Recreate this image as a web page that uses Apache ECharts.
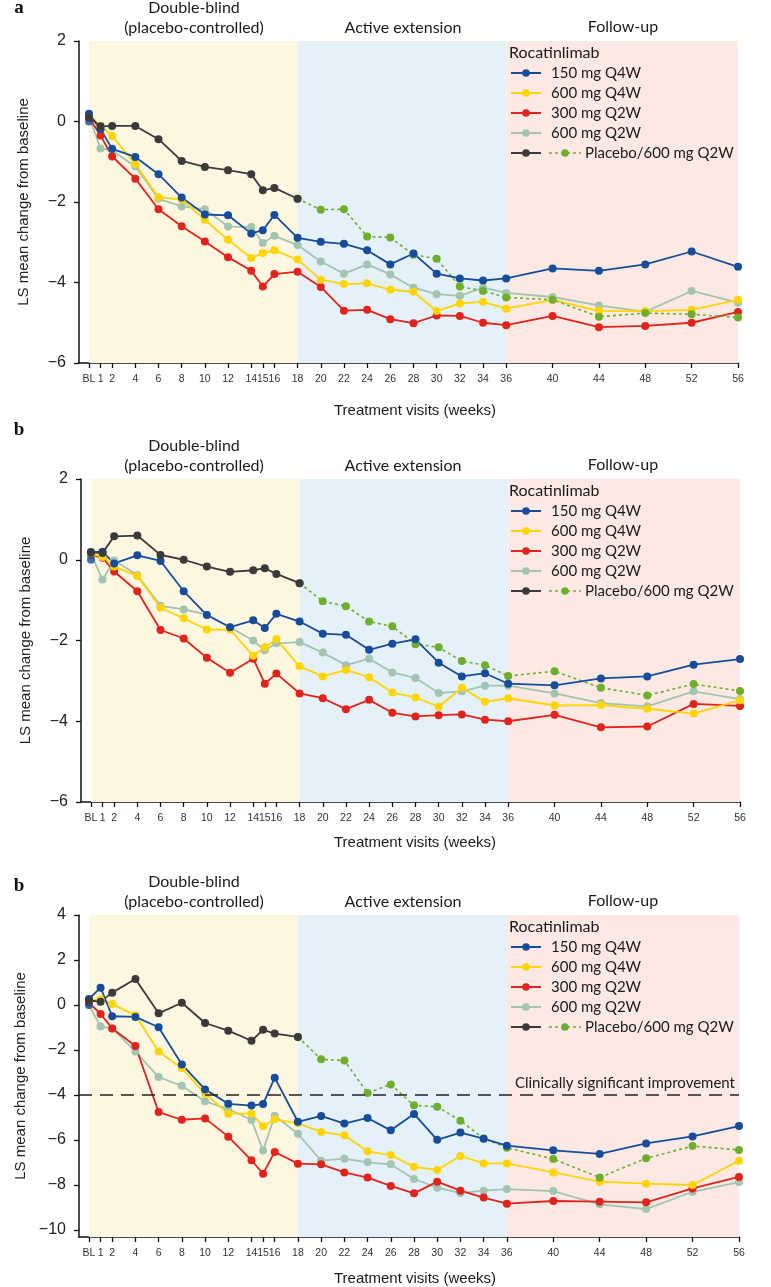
<!DOCTYPE html>
<html><head><meta charset="utf-8">
<script src="https://cdn.jsdelivr.net/npm/echarts@6/dist/echarts.min.js"></script>
<style>html,body{margin:0;padding:0;background:#fff}#c{width:771px;height:1287px}</style>
</head><body><div id="c"></div>
<script>
// ---------- Data ----------
const weeks = [0,1,2,4,6,8,10,12,14,15,16,18,20,22,24,26,28,30,32,34,36,40,44,48,52,56];
const weeksDB = [0,1,2,4,6,8,10,12,14,15,16,18];
const weeksExt = [20,22,24,26,28,30,32,34,36,40,44,48,52,56];
const xTickValues = weeks;
const seriesNames = ['150 mg Q4W','600 mg Q4W','300 mg Q2W','600 mg Q2W','Placebo/600 mg Q2W'];
const legendTitle = 'Rocatinlimab';
const phaseLine1 = 'Double-blind';
const phaseLine2 = '(placebo-controlled)';
const phaseExt = 'Active extension';
const phaseFollow = 'Follow-up';
const xTitle = 'Treatment visits (weeks)';
const yTitle = 'LS mean change from baseline';
const yTicksAB = [-6,-4,-2,0,2];
const yTicksC = [-10,-8,-6,-4,-2,0,2,4];
const clinicalThreshold = -4;
const clinicalLabel = 'Clinically significant improvement';
const baselineExtraDot = 0;

// Panel a
const a150q4w = [0.19,-0.19,-0.68,-0.88,-1.31,-1.89,-2.31,-2.33,-2.78,-2.70,-2.32,-2.89,-2.99,-3.04,-3.20,-3.55,-3.28,-3.78,-3.90,-3.95,-3.90,-3.65,-3.71,-3.55,-3.23,-3.61];
const a600q4w = [0.15,-0.11,-0.36,-1.06,-1.88,-1.94,-2.44,-2.94,-3.39,-3.27,-3.20,-3.43,-3.93,-4.04,-4.02,-4.18,-4.23,-4.71,-4.52,-4.48,-4.65,-4.43,-4.71,-4.71,-4.68,-4.43];
const a300q2w = [0.10,-0.35,-0.87,-1.42,-2.18,-2.60,-2.98,-3.37,-3.71,-4.10,-3.79,-3.73,-4.11,-4.70,-4.68,-4.91,-5.01,-4.82,-4.83,-5.00,-5.06,-4.83,-5.11,-5.08,-5.00,-4.73];
const a600q2w = [0.12,-0.67,-0.72,-1.12,-1.92,-2.11,-2.18,-2.61,-2.62,-3.02,-2.84,-3.07,-3.48,-3.78,-3.55,-3.80,-4.13,-4.29,-4.33,-4.13,-4.26,-4.36,-4.57,-4.73,-4.21,-4.50];
const aPlaceboDB = [0.10,-0.12,-0.11,-0.11,-0.44,-0.98,-1.13,-1.21,-1.31,-1.71,-1.65,-1.92];
const aPlaceboExt = [-2.19,-2.18,-2.86,-2.88,-3.31,-3.41,-4.10,-4.21,-4.37,-4.43,-4.85,-4.76,-4.79,-4.87];

// Panel b
const b150q4w = [0.19,0.20,-0.09,0.11,-0.03,-0.78,-1.37,-1.67,-1.50,-1.69,-1.34,-1.53,-1.83,-1.86,-2.23,-2.08,-1.97,-2.55,-2.89,-2.81,-3.07,-3.11,-2.94,-2.89,-2.60,-2.46];
const b600q4w = [0.15,0.07,-0.17,-0.40,-1.19,-1.45,-1.73,-1.73,-2.38,-2.17,-1.97,-2.64,-2.89,-2.73,-2.91,-3.29,-3.41,-3.64,-3.17,-3.52,-3.43,-3.61,-3.60,-3.69,-3.81,-3.48];
const b300q2w = [0.12,0.05,-0.29,-0.78,-1.74,-1.95,-2.43,-2.80,-2.45,-3.07,-2.82,-3.31,-3.43,-3.70,-3.47,-3.79,-3.88,-3.85,-3.83,-3.96,-4.00,-3.84,-4.15,-4.13,-3.57,-3.62];
const b600q2w = [0.15,-0.49,-0.02,-0.38,-1.14,-1.23,-1.36,-1.67,-2.00,-2.24,-2.07,-2.04,-2.30,-2.61,-2.45,-2.79,-2.93,-3.30,-3.26,-3.12,-3.12,-3.31,-3.55,-3.63,-3.26,-3.45];
const bPlaceboDB = [0.18,0.17,0.58,0.60,0.12,0.00,-0.17,-0.30,-0.26,-0.21,-0.35,-0.58];
const bPlaceboExt = [-1.03,-1.15,-1.53,-1.65,-2.09,-2.17,-2.51,-2.61,-2.88,-2.76,-3.17,-3.36,-3.08,-3.25];

// Panel c
const c150q4w = [0.27,0.77,-0.50,-0.53,-0.99,-2.64,-3.75,-4.39,-4.47,-4.40,-3.23,-5.19,-4.93,-5.27,-5.02,-5.57,-4.84,-5.99,-5.67,-5.94,-6.25,-6.46,-6.62,-6.15,-5.84,-5.38];
const c600q4w = [0.20,0.25,0.04,-0.46,-2.07,-2.81,-3.94,-4.83,-4.83,-5.39,-5.08,-5.26,-5.64,-5.79,-6.50,-6.67,-7.19,-7.33,-6.71,-7.04,-7.04,-7.44,-7.85,-7.94,-8.00,-6.92];
const c300q2w = [0.10,-0.40,-1.04,-1.82,-4.76,-5.10,-5.04,-5.85,-6.90,-7.50,-6.53,-7.05,-7.08,-7.44,-7.67,-8.04,-8.37,-7.85,-8.25,-8.56,-8.83,-8.71,-8.74,-8.77,-8.15,-7.64];
const c600q2w = [0.00,-0.96,-1.04,-2.07,-3.20,-3.59,-4.28,-4.62,-5.11,-6.47,-4.92,-5.72,-6.92,-6.83,-6.99,-7.08,-7.73,-8.12,-8.36,-8.25,-8.18,-8.27,-8.86,-9.07,-8.30,-7.87];
const cPlaceboDB = [0.20,0.15,0.55,1.16,-0.37,0.10,-0.80,-1.14,-1.59,-1.10,-1.27,-1.42];
const cPlaceboExt = [-2.41,-2.47,-3.91,-3.53,-4.46,-4.52,-5.14,-5.93,-6.34,-6.84,-7.67,-6.81,-6.27,-6.44];

// ---------- Styles ----------
const COL = {q4w150:'#174c9b', q4w600:'#ffd400', q2w300:'#e2231c', q2w600:'#a2c4b1', pbo:'#3a3a3a', ext:'#6fae2c'};
const BAND = ['#fdf6e1','#e5f1f9','#fce9e3'];
const AXFONT = 'Liberation Sans, Arial, sans-serif';
const TXFONT = 'Lato, Liberation Sans, sans-serif';

const panels = [
  {left:79, right:33, top:41, height:322, ymin:-6, ymax:2, yt:yTicksAB, d:[a150q4w,a600q4w,a300q2w,a600q2w,aPlaceboDB,aPlaceboExt], dy:0, lab:'a', labY:8, xTitleY:410, clin:false},
  {left:81, right:31, top:479, height:323, ymin:-6, ymax:2, yt:yTicksAB, d:[b150q4w,b600q4w,b300q2w,b600q2w,bPlaceboDB,bPlaceboExt], dy:438, lab:'b', labY:430, xTitleY:842, clin:false},
  {left:79, right:32, top:915, height:322, ymin:-10.31, ymax:4, yt:yTicksC, d:[c150q4w,c600q4w,c300q2w,c600q2w,cPlaceboDB,cPlaceboExt], dy:874, lab:'b', labY:886, xTitleY:1278, clin:true}
];

const fmtY = v => (v < 0 ? '\u2212' + Math.abs(v) : String(v));
const pairs = (xs, ys) => xs.map((x, i) => [x, ys[i]]);

const grid = [], xAxis = [], yAxis = [], series = [], graphic = [];
const G = el => { el.z = 100; graphic.push(el); };

panels.forEach((p, k) => {
  grid.push({left:p.left, right:p.right, top:p.top, height:p.height, containLabel:false});
  xAxis.push({
    type:'value', gridIndex:k, min:-0.86, max:56,
    axisLine:{show:true, onZero:false, lineStyle:{color:'#111', width:1.5}},
    axisTick:{show:true, length:5, customValues:xTickValues, lineStyle:{color:'#111', width:1.3}},
    axisLabel:{customValues:xTickValues, formatter:v => (v === 0 ? 'BL' : String(v)), fontSize:10.5, fontFamily:AXFONT, color:'#333', margin:11, hideOverlap:false},
    splitLine:{show:false}
  });
  yAxis.push({
    type:'value', gridIndex:k, min:p.ymin, max:p.ymax,
    axisLine:{show:true, onZero:false, lineStyle:{color:'#111', width:1.5}},
    axisTick:{show:true, length:5, customValues:p.yt, lineStyle:{color:'#111', width:1.3}},
    axisLabel:{customValues:p.yt, formatter:fmtY, fontSize:16, fontFamily:AXFONT, color:'#222', margin:13},
    splitLine:{show:false},
    name:yTitle, nameLocation:'middle', nameRotate:90, nameGap:48,
    nameTextStyle:{fontSize:15, fontFamily:AXFONT, color:'#222'}
  });
  // background phases
  series.push({
    type:'line', xAxisIndex:k, yAxisIndex:k, data:[], z:1, silent:true,
    markArea:{silent:true, data:[
      [{xAxis:0, itemStyle:{color:BAND[0]}}, {xAxis:18}],
      [{xAxis:18, itemStyle:{color:BAND[1]}}, {xAxis:36}],
      [{xAxis:36, itemStyle:{color:BAND[2]}}, {xAxis:56}]
    ]},
    markLine: p.clin ? {silent:true, symbol:'none', label:{show:false},
      lineStyle:{color:'#222', width:1.5, type:[13,8]}, data:[{yAxis:clinicalThreshold}]} : undefined
  });
  const mk = (name, data, color, opts) => Object.assign({
    type:'line', name, xAxisIndex:k, yAxisIndex:k, data, z:3,
    symbol:'circle', symbolSize:8, showSymbol:true,
    lineStyle:{color, width:1.8}, itemStyle:{color}, emphasis:{disabled:true}
  }, opts || {});
  const [s1, s2, s3, s4, pdb, pext] = p.d;
  series.push(mk(seriesNames[3], pairs(weeks, s4), COL.q2w600));
  series.push(mk(seriesNames[2], pairs(weeks, s3), COL.q2w300));
  series.push(mk(seriesNames[1], pairs(weeks, s2), COL.q4w600));
  series.push(mk(seriesNames[4], [[18, pdb[pdb.length - 1]]].concat(pairs(weeksExt, pext)), COL.ext,
    {lineStyle:{color:COL.ext, width:1.6, type:[3,3]}}));
  series.push(mk(seriesNames[0], pairs(weeks, s1), COL.q4w150));
  series.push(mk(seriesNames[0] + ' BL', [[0, baselineExtraDot]], COL.q4w150, {type:'scatter'}));
  series.push(mk(seriesNames[4] + ' DB', pairs(weeksDB, pdb), COL.pbo));

  // panel label
  G({type:'text', x:19, y:p.labY, style:{text:p.lab, font:'bold 19px "Liberation Serif", "DejaVu Serif", serif', fill:'#111', textAlign:'center', textVerticalAlign:'middle'}});
  // phase headings
  const hs = {font:'16px ' + TXFONT, fill:'#1a1a1a', textAlign:'center', textVerticalAlign:'middle'};
  G({type:'text', x:194, y:8 + p.dy, style:Object.assign({text:phaseLine1}, hs)});
  G({type:'text', x:194, y:28 + p.dy, style:Object.assign({text:phaseLine2}, hs)});
  G({type:'text', x:403, y:28 + p.dy, style:Object.assign({text:phaseExt}, hs)});
  G({type:'text', x:623, y:27 + p.dy, style:Object.assign({text:phaseFollow}, hs)});
  // x axis title
  G({type:'text', x:415, y:p.xTitleY + 1, style:{text:xTitle, font:'15px ' + AXFONT, fill:'#1a1a1a', textAlign:'center', textVerticalAlign:'middle'}});
  // legend
  const lt = {font:'16px ' + TXFONT, fill:'#1a1a1a', textAlign:'left', textVerticalAlign:'middle'};
  const ls = {font:'15px ' + TXFONT, fill:'#1a1a1a', textAlign:'left', textVerticalAlign:'middle'};
  G({type:'text', x:509, y:53 + p.dy, style:Object.assign({text:legendTitle}, lt)});
  const legCols = [COL.q4w150, COL.q4w600, COL.q2w300, COL.q2w600];
  for (let i = 0; i < 4; i++) {
    const y = 73 + 20 * i + p.dy;
    G({type:'line', shape:{x1:511, y1:y, x2:541, y2:y}, style:{stroke:legCols[i], lineWidth:2}});
    G({type:'circle', shape:{cx:526, cy:y, r:3.8}, style:{fill:legCols[i]}});
    G({type:'text', x:551, y:y, style:Object.assign({text:seriesNames[i]}, ls)});
  }
  const y5 = 153 + p.dy;
  G({type:'line', shape:{x1:511, y1:y5, x2:541, y2:y5}, style:{stroke:COL.pbo, lineWidth:2}});
  G({type:'circle', shape:{cx:526, cy:y5, r:3.8}, style:{fill:COL.pbo}});
  G({type:'line', shape:{x1:549, y1:y5, x2:581, y2:y5}, style:{stroke:COL.ext, lineWidth:1.6, lineDash:[3,3]}});
  G({type:'circle', shape:{cx:565, cy:y5, r:3.8}, style:{fill:COL.ext}});
  G({type:'text', x:585, y:y5, style:Object.assign({text:seriesNames[4]}, ls)});
  if (p.clin) {
    G({type:'text', x:735, y:1083, style:{text:clinicalLabel, font:'15px ' + TXFONT, fill:'#1a1a1a', textAlign:'right', textVerticalAlign:'middle'}});
  }
});

const chart = echarts.init(document.getElementById('c'), null, {renderer:'canvas'});
chart.setOption({animation:false, backgroundColor:'#fff', grid, xAxis, yAxis, series, graphic});
</script></body></html>
